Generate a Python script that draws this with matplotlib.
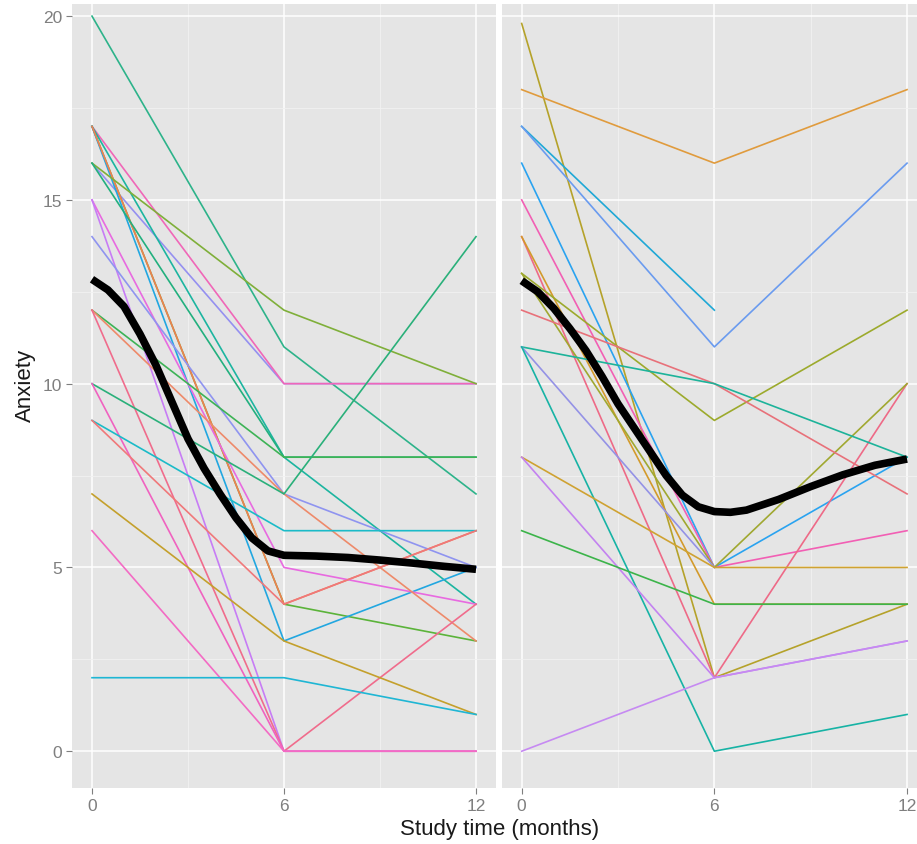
import numpy as np
import matplotlib
matplotlib.use("Agg")
import matplotlib.pyplot as plt

plt.rcParams['font.family'] = ['Liberation Sans', 'DejaVu Sans']

# measurement times (months)
times = [0, 6, 12]

# left panel: anxiety per subject at 0, 6, 12 months
left_values = [
    [20, 11, 7], [16, 10, 10], [17, 10, 10], [17, 8, 4], [17, 4, 3], [17, 3, 5],
    [17, 4, 6], [16, 12, 10], [16, 8, 8], [15, 5, 4],
    [15, 0, 0], [14, 7, 5], [12, 8, 8], [12, 7, 3], [12, 0, 4],
    [10, 7, 14], [10, 0, 0], [9, 6, 6], [9, 4, 6], [7, 3, 1],
    [6, 0, 0], [2, 2, 1],
]
left_colors = [
    "#2DB38A", "#9590F0", "#F067B8", "#1CB5A0", "#5BB33A", "#22A7E0",
    "#F07F4F", "#7FAF3A", "#22B07E", "#E86AE0",
    "#C77CF5", "#8F94F0", "#3DB356", "#EE8A6A", "#F06C8C",
    "#2AB07A", "#F062C0", "#1BBBC8", "#F0787A", "#C4A02C",
    "#F36BC4", "#1FB6D4",
]

# right panel
right_values = [
    [19.8, 2, 4], [18, 16, 18], [17, 12, np.nan], [17, 11, 16], [16, 5, 8],
    [15, 5, 6], [14, 2, 10], [14, 4, 4], [13, 9, 12], [13, 5, 10],
    [12, 10, 7], [11, 10, 8], [11, 5, np.nan], [11, 0, 1], [8, 5, 5],
    [8, 2, 3], [6, 4, 4], [0, 2, 3],
]
right_colors = [
    "#B5A22A", "#E09B3D", "#1FA8D6", "#6A9BEF", "#2AA3F0",
    "#F25FB4", "#EE6A87", "#D39A2B", "#9CAA2C", "#A0A830",
    "#E8717A", "#1DB39A", "#9492E6", "#17B3A5", "#CFA232",
    "#C382F0", "#3CB44A", "#C68AF2",
]

# smoothed mean curves
left_smooth_t = [0, 0.5, 1, 1.5, 2, 2.5, 3, 3.5, 4, 4.5, 5, 5.5, 6, 7, 8, 9, 10, 11, 12]
left_smooth = [12.84, 12.55, 12.1, 11.35, 10.5, 9.5, 8.5, 7.7, 7.0, 6.35, 5.8, 5.45,
               5.33, 5.31, 5.27, 5.2, 5.12, 5.03, 4.95]
right_smooth_t = [0, 0.5, 1, 1.5, 2, 2.5, 3, 3.5, 4, 4.5, 5, 5.5, 6, 6.5, 7, 8, 9, 10, 11, 12]
right_smooth = [12.8, 12.5, 12.05, 11.5, 10.9, 10.2, 9.45, 8.8, 8.15, 7.5, 6.97, 6.65,
                6.52, 6.5, 6.56, 6.85, 7.2, 7.52, 7.78, 7.95]

fig = plt.figure(figsize=(9.17, 8.45), dpi=100)
ax1 = fig.add_axes([0.0785, 0.0663, 0.4624, 0.9278])
ax2 = fig.add_axes([0.5474, 0.0663, 0.4526, 0.9278])


def style(ax, xlim, show_y):
    ax.set_facecolor("#E5E5E5")
    for s in ax.spines.values():
        s.set_visible(False)
    ax.set_xlim(*xlim)
    ax.set_ylim(-1, 20.33)
    ax.set_xticks([0, 6, 12])
    ax.set_xticks([3, 9], minor=True)
    ax.set_yticks([0, 5, 10, 15, 20])
    ax.set_yticks([2.5, 7.5, 12.5, 17.5], minor=True)
    ax.grid(which="major", color="white", linewidth=1.1)
    ax.grid(which="minor", color="#F2F2F2", linewidth=0.6)
    ax.set_axisbelow(True)
    ax.tick_params(which="major", length=4, width=0.8, color="#7F7F7F",
                   labelcolor="#7F7F7F", labelsize=12.5, pad=3)
    ax.tick_params(which="minor", length=0)
    if not show_y:
        ax.tick_params(axis="y", which="both", left=False, labelleft=False)


style(ax1, (-0.625, 12.625), True)
style(ax2, (-0.614, 12.31), False)

for vals, c in zip(left_values, left_colors):
    ax1.plot(times, vals, color=c, linewidth=1.2)
ax1.plot(left_smooth_t, left_smooth, color="black", linewidth=5.5,
         solid_capstyle="butt", solid_joinstyle="round")

for vals, c in zip(right_values, right_colors):
    ax2.plot(times, vals, color=c, linewidth=1.2)
ax2.plot(right_smooth_t, right_smooth, color="black", linewidth=5.5,
         solid_capstyle="butt", solid_joinstyle="round")

fig.text(0.545, 1 - 830 / 845, "Study time (months)", ha="center", va="center",
         fontsize=16, color="#1A1A1A")
fig.text(25 / 917, 1 - 385 / 845, "Anxiety", ha="center", va="center",
         rotation=90, fontsize=16, color="#1A1A1A")

plt.savefig("out.png", dpi=100)
